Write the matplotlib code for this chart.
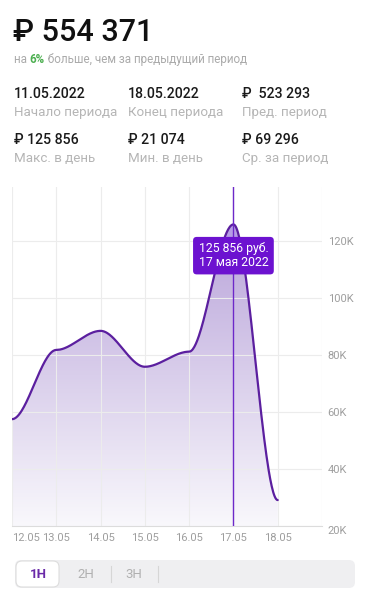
import numpy as np
import matplotlib
matplotlib.use("Agg")
import matplotlib.pyplot as plt
from matplotlib.patches import FancyBboxPatch, Polygon, Rectangle
from matplotlib.colors import LinearSegmentedColormap

plt.rcParams['font.family'] = ['Roboto', 'DejaVu Sans']

# ---------- данные ----------
dates = ["12.05", "13.05", "14.05", "15.05", "16.05", "17.05", "18.05"]
revenue = [57500, 81800, 88500, 75900, 81200, 125856, 29100]
y_ticks = [20000, 40000, 60000, 80000, 100000, 120000]
y_labels = ["20K", "40K", "60K", "80K", "100K", "120K"]

total = "₽ 554 371"
growth = "6%"
stats_top = ["11.05.2022", "18.05.2022", "₽  523 293"]
stats_top_lbl = ["Начало периода", "Конец периода", "Пред. период"]
stats_bot = ["₽ 125 856", "₽ 21 074", "₽ 69 296"]
stats_bot_lbl = ["Макс. в день", "Мин. в день", "Ср. за период"]
selected = 5
tooltip = "125 856 руб.\n17 мая 2022"
periods = ["1Н", "2Н", "3Н"]

W, H = 368, 600
fig = plt.figure(figsize=(W / 100, H / 100), dpi=100)

# фон-слой в пикселях для заголовков и кнопок
bg = fig.add_axes([0, 0, 1, 1])
bg.set_xlim(0, W)
bg.set_ylim(H, 0)
bg.axis("off")

bg.text(13, 41, total, fontsize=22, fontweight="medium", color="#111111", va="baseline")

# подзаголовок из трёх кусков, каждый следом за предыдущим
t1 = bg.text(14, 63, "на ", fontsize=8.4, color="#aaaaaa", va="baseline")
t2 = bg.annotate(growth, xy=(1, 0), xycoords=t1, fontsize=8.4, color="#4caf50",
                 fontweight="bold", va="bottom")
bg.annotate(" больше, чем за предыдущий период", xy=(1, 0), xycoords=t2, fontsize=8.4,
            color="#aaaaaa", va="bottom")

cols = [14, 128, 242]
for i, x in enumerate(cols):
    bg.text(x, 98, stats_top[i], fontsize=10.2, fontweight="medium", color="#1a1a1a", va="baseline")
    bg.text(x, 116, stats_top_lbl[i], fontsize=9.6, color="#b5b5b5", va="baseline")
    bg.text(x, 144, stats_bot[i], fontsize=10.2, fontweight="medium", color="#1a1a1a", va="baseline")
    bg.text(x, 162, stats_bot_lbl[i], fontsize=9.6, color="#b5b5b5", va="baseline")

# переключатель периодов
bg.add_patch(FancyBboxPatch((15, 560), 340, 28, boxstyle="round,pad=0,rounding_size=6",
                            fc="#efeff1", ec="none"))
bg.add_patch(FancyBboxPatch((16, 561), 43, 26, boxstyle="round,pad=0,rounding_size=6",
                            fc="white", ec="#dddddd", lw=0.8))
for i, lbl in enumerate(periods):
    cx = 38 + i * 48
    bg.text(cx, 574.5, lbl, fontsize=9.5, ha="center", va="center",
            color="#6a2aa8" if i == 0 else "#b0b0b0",
            fontweight="bold" if i == 0 else "normal")
for sx in [111, 158]:
    bg.plot([sx, sx], [566, 582], color="#d6d6d6", lw=0.8)

# ---------- график ----------
ax = fig.add_axes([12 / W, 1 - 526 / H, 310 / W, 339 / H])
ax.set_facecolor("none")
ax.set_xlim(0, 7)
ax.set_ylim(20000, 139000)

x = np.arange(len(revenue))
y = np.array(revenue, dtype=float)

# гладкая кривая: горизонтальные касательные в каждой точке
t = np.linspace(0, 1, 60)
s = 3 * t**2 - 2 * t**3
xs = np.concatenate([x[i] + t for i in range(len(x) - 1)])
ys = np.concatenate([y[i] + (y[i + 1] - y[i]) * s for i in range(len(x) - 1)])

ymin, ymax = ax.get_ylim()
cmap = LinearSegmentedColormap.from_list("fade", ["#f9f8fc", "#b9a4da"])
grad = np.linspace(0, 1, 256).reshape(-1, 1)

poly = Polygon(np.column_stack([np.r_[xs, xs[-1], xs[0]], np.r_[ys, ymin, ymin]]),
               closed=True, fc="none", ec="none")
ax.add_patch(poly)
im = ax.imshow(grad, extent=[0, x[-1], ymin, ys.max()], origin="lower", aspect="auto",
               cmap=cmap, zorder=1)
im.set_clip_path(poly)

# подсветка вершины выбранного дня (только над подсказкой)
m = (xs >= selected - 0.25) & (xs <= selected + 0.25)
hl = Polygon(np.column_stack([np.r_[xs[m], xs[m][-1], xs[m][0]], np.r_[ys[m], ymin, ymin]]),
             closed=True, fc="none", ec="none")
ax.add_patch(hl)
top = ax.add_patch(Rectangle((selected - 0.3, 110000), 0.6, 30000, fc="#b79de6",
                             ec="none", zorder=1.5))
top.set_clip_path(hl)

ax.plot(xs, ys, color="#5b1f9f", lw=1.6, zorder=3, solid_capstyle="round")
ax.axvline(selected, color="#6d28c9", lw=1, zorder=4)

ax.text(selected, 114900, tooltip, ha="center", va="center", color="white", fontsize=8.8,
        linespacing=1.05, zorder=5,
        bbox=dict(boxstyle="round,pad=0.45,rounding_size=0.3", fc="#6c12d0", ec="none"))

# оси и сетка
ax.set_xticks(np.arange(8))
ax.set_xticklabels(dates + [""])
ax.set_yticks(y_ticks)
ax.set_yticklabels(y_labels)
ax.yaxis.tick_right()
ax.tick_params(length=0, labelsize=8, labelcolor="#9e9e9e")
ax.tick_params(axis="x", pad=5)
ax.tick_params(axis="y", pad=4)
ax.get_xticklabels()[0].set_horizontalalignment("left")
ax.get_yticklabels()[0].set_verticalalignment("top")
ax.grid(True, color="#ececec", lw=0.8, zorder=0)
for side in ["top", "left", "right"]:
    ax.spines[side].set_visible(False)
ax.spines["bottom"].set_color("#dcdcdc")
ax.spines["bottom"].set_linewidth(0.8)

fig.savefig("out.png", dpi=100, facecolor="white")
